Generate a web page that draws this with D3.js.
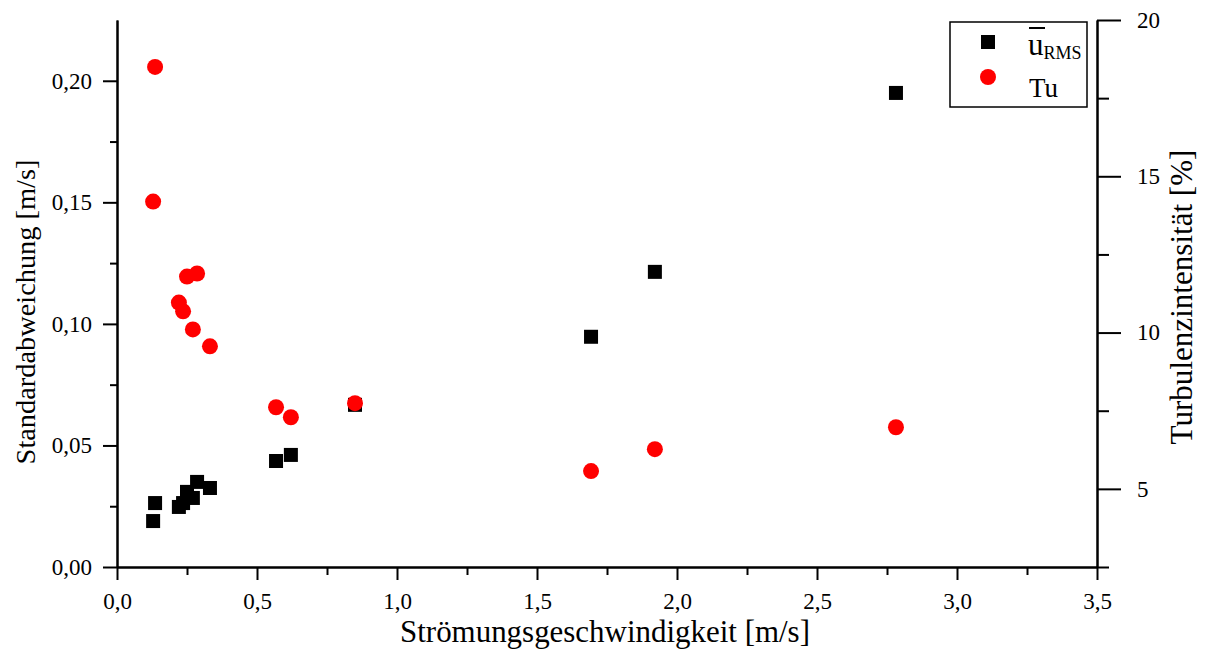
<!DOCTYPE html>
<html>
<head>
<meta charset="utf-8">
<script src="https://cdn.jsdelivr.net/npm/d3@7"></script>
<style>
  html, body { margin: 0; padding: 0; background: #fff; }
  svg { display: block; }
  text { font-family: "Liberation Serif", "DejaVu Serif", serif; fill: #000; }
</style>
</head>
<body>
<svg id="chart" width="1207" height="651"></svg>
<script>
// ---- data ----
const speed = [0.129, 0.136, 0.221, 0.236, 0.250, 0.271, 0.286, 0.332, 0.568, 0.621, 0.850, 1.693, 1.921, 2.782];
const uRms  = [0.0189, 0.0263, 0.0247, 0.0263, 0.0309, 0.0284, 0.0350, 0.0325, 0.0436, 0.0461, 0.0667, 0.0947, 0.1214, 0.1950];
const tu    = [14.19, 18.50, 10.96, 10.68, 11.79, 10.10, 11.89, 9.56, 7.61, 7.29, 7.74, 5.57, 6.27, 6.97];

const xTicks = [0, 0.5, 1.0, 1.5, 2.0, 2.5, 3.0, 3.5];
const xMinor = [0.25, 0.75, 1.25, 1.75, 2.25, 2.75, 3.25];
const yLTicks = [0, 0.05, 0.10, 0.15, 0.20];
const yLMinor = [0.025, 0.075, 0.125, 0.175];
const yRTicks = [5, 10, 15, 20];
const yRMinor = [2.5, 7.5, 12.5, 17.5];

const xTitle = "Strömungsgeschwindigkeit [m/s]";
const yLTitle = "Standardabweichung [m/s]";
const yRTitle = "Turbulenzintensität [%]";

// ---- layout ----
const L = 117, R = 1097, T = 20, B = 567;
const svg = d3.select("#chart");

const x = d3.scaleLinear().domain([0, 3.5]).range([L, R]);
const yL = d3.scaleLinear().domain([0, 0.225]).range([B, T]);
const yR = d3.scaleLinear().domain([2.5, 20]).range([B, T]);

const comma = f => v => d3.format(f)(v).replace(".", ",");
const tickFS = 23;

function styleAxis(g) {
  g.selectAll("path.domain").attr("stroke", "#000").attr("stroke-width", 2);
  g.selectAll(".tick line").attr("stroke", "#000").attr("stroke-width", 2);
  g.selectAll(".tick text").attr("font-family", "Liberation Serif").attr("font-size", tickFS).attr("fill", "#000");
}

// bottom axis
svg.append("g").attr("transform", `translate(0,${B})`)
  .call(d3.axisBottom(x).tickValues(xMinor).tickSize(8).tickSizeOuter(0).tickFormat(""))
  .call(styleAxis);
svg.append("g").attr("transform", `translate(0,${B})`)
  .call(d3.axisBottom(x).tickValues(xTicks).tickSize(13).tickSizeOuter(0).tickPadding(13).tickFormat(comma(".1f")))
  .call(styleAxis);

// left axis
svg.append("g").attr("transform", `translate(${L},0)`)
  .call(d3.axisLeft(yL).tickValues(yLMinor).tickSize(7).tickSizeOuter(0).tickFormat(""))
  .call(styleAxis);
svg.append("g").attr("transform", `translate(${L},0)`)
  .call(d3.axisLeft(yL).tickValues(yLTicks).tickSize(14).tickSizeOuter(0).tickPadding(11).tickFormat(comma(".2f")))
  .call(styleAxis);

// right axis
svg.append("g").attr("transform", `translate(${R},0)`)
  .call(d3.axisRight(yR).tickValues(yRMinor).tickSize(12).tickSizeOuter(0).tickFormat(""))
  .call(styleAxis);
svg.append("g").attr("transform", `translate(${R},0)`)
  .call(d3.axisRight(yR).tickValues(yRTicks).tickSize(24).tickSizeOuter(0).tickPadding(16).tickFormat(d3.format("d")))
  .call(styleAxis);

// titles
function fitText(sel, target) {
  const w = sel.node().getComputedTextLength();
  const fs = parseFloat(sel.attr("font-size"));
  sel.attr("font-size", fs * target / w);
}
svg.append("text").attr("x", 605).attr("y", 642).attr("text-anchor", "middle")
  .attr("font-size", 28).text(xTitle).call(fitText, 410);
svg.append("text").attr("transform", "translate(35,312) rotate(-90)").attr("text-anchor", "middle")
  .attr("font-size", 28).text(yLTitle).call(fitText, 305);
svg.append("text").attr("transform", "translate(1192,297) rotate(-90)").attr("text-anchor", "middle")
  .attr("font-size", 28).text(yRTitle).call(fitText, 295);

// data: squares (left axis), circles (right axis)
const sq = 14;
svg.append("g").selectAll("rect").data(speed).join("rect")
  .attr("x", (d, i) => x(d) - sq / 2)
  .attr("y", (d, i) => yL(uRms[i]) - sq / 2)
  .attr("width", sq).attr("height", sq).attr("fill", "#000");
svg.append("g").selectAll("circle").data(speed).join("circle")
  .attr("cx", d => x(d))
  .attr("cy", (d, i) => yR(tu[i]))
  .attr("r", 8).attr("fill", "#ff0000");

// legend
const lg = svg.append("g");
lg.append("rect").attr("x", 950).attr("y", 22).attr("width", 137).attr("height", 85)
  .attr("fill", "#fff").attr("stroke", "#000").attr("stroke-width", 1.5);
lg.append("rect").attr("x", 988 - sq / 2).attr("y", 42 - sq / 2).attr("width", sq).attr("height", sq).attr("fill", "#000");
lg.append("circle").attr("cx", 988).attr("cy", 77).attr("r", 8).attr("fill", "#ff0000");
const t1 = lg.append("text").attr("x", 1028).attr("y", 55).attr("font-size", 31);
t1.append("tspan").text("u");
t1.append("tspan").attr("font-size", 18).attr("dy", 4).text("RMS");
lg.append("line").attr("x1", 1029).attr("x2", 1045).attr("y1", 28).attr("y2", 28)
  .attr("stroke", "#000").attr("stroke-width", 2);
lg.append("text").attr("x", 1029).attr("y", 97).attr("font-size", 27).text("Tu");
</script>
</body>
</html>
